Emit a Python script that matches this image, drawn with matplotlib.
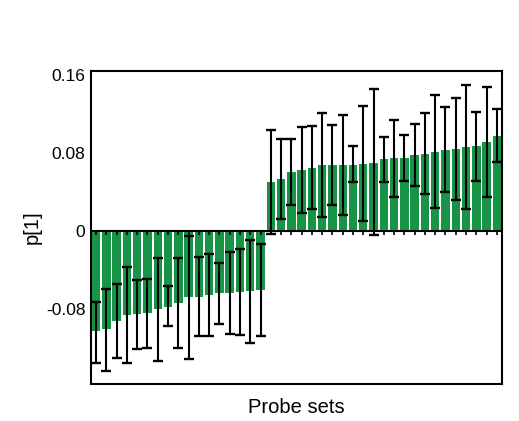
import matplotlib
matplotlib.use("Agg")
import matplotlib.pyplot as plt
import numpy as np

plt.rcParams['font.family'] = ['Liberation Sans', 'DejaVu Sans']

# loading values p[1] per probe set, with lower / upper ends of the error bars
values = [-0.103, -0.101, -0.092, -0.086, -0.0855, -0.0845, -0.080, -0.0776, -0.0742, -0.068,
          -0.0674, -0.0656, -0.064, -0.0633, -0.063, -0.0615, -0.0605,
          0.0503, 0.0537, 0.0605, 0.0626, 0.0646, 0.0674, 0.0674, 0.0674, 0.0677, 0.069,
          0.070, 0.0734, 0.0745, 0.0748, 0.0776, 0.079, 0.0814, 0.0834, 0.0844, 0.0861,
          0.0871, 0.0915, 0.0977]
err_lo = [-0.135, -0.1436, -0.130, -0.135, -0.121, -0.120, -0.133, -0.098, -0.120, -0.131,
          -0.108, -0.108, -0.095, -0.106, -0.107, -0.115, -0.108,
          -0.0031, 0.0123, 0.027, 0.018, 0.0222, 0.0144, 0.0267, 0.0164, 0.050, 0.0103,
          -0.0044, 0.0503, 0.0352, 0.0516, 0.0458, 0.0376, 0.0236, 0.040, 0.0318, 0.0229,
          0.0516, 0.0349, 0.071]
err_hi = [-0.0725, -0.0598, -0.054, -0.0369, -0.0503, -0.049, -0.0274, -0.057, -0.028, -0.0048,
          -0.0267, -0.0233, -0.033, -0.022, -0.019, -0.0092, -0.0133,
          0.1036, 0.0947, 0.094, 0.107, 0.108, 0.1207, 0.109, 0.119, 0.0869, 0.128,
          0.1456, 0.0967, 0.1138, 0.0985, 0.1097, 0.1207, 0.1395, 0.1269, 0.1367, 0.1497,
          0.1224, 0.148, 0.125]
yticks = [-0.08, 0, 0.08, 0.16]
ytick_labels = ['-0.08', '0', '0.08', '0.16']

vals = np.array(values)
x = np.arange(len(vals))
yerr = [vals - np.array(err_lo), np.array(err_hi) - vals]

fig = plt.figure(figsize=(5.19, 4.21), dpi=100)
ax = fig.add_axes([0.1753, 0.0879, 0.7919, 0.7435])

ax.bar(x, vals, width=0.82, color='#189446', zorder=1)
ax.errorbar(x, vals, yerr=yerr, fmt='none', ecolor='black', elinewidth=1.5,
            capsize=3.3, capthick=1.7, zorder=3)
# zero line with small ticks under each bar
ax.axhline(0, color='black', lw=1.5, zorder=2)
ax.plot(x, np.zeros_like(vals), ls='none', marker=3, color='black', ms=3, mew=1.2, zorder=2)

ax.set_xlim(-0.5, len(vals) - 0.5)
ax.set_ylim(-0.157, 0.164)
ax.set_xticks([])
ax.set_yticks(yticks)
ax.set_yticklabels(ytick_labels, fontsize=12.5)
ax.tick_params(axis='y', length=0, pad=4)
for s in ax.spines.values():
    s.set_linewidth(1.5)

ax.set_xlabel('Probe sets', fontsize=14.5, labelpad=10)
ax.set_ylabel('p[1]', fontsize=14.5)
ax.yaxis.set_label_coords(-0.119, 0.5)

fig.savefig('out.png', dpi=100)
